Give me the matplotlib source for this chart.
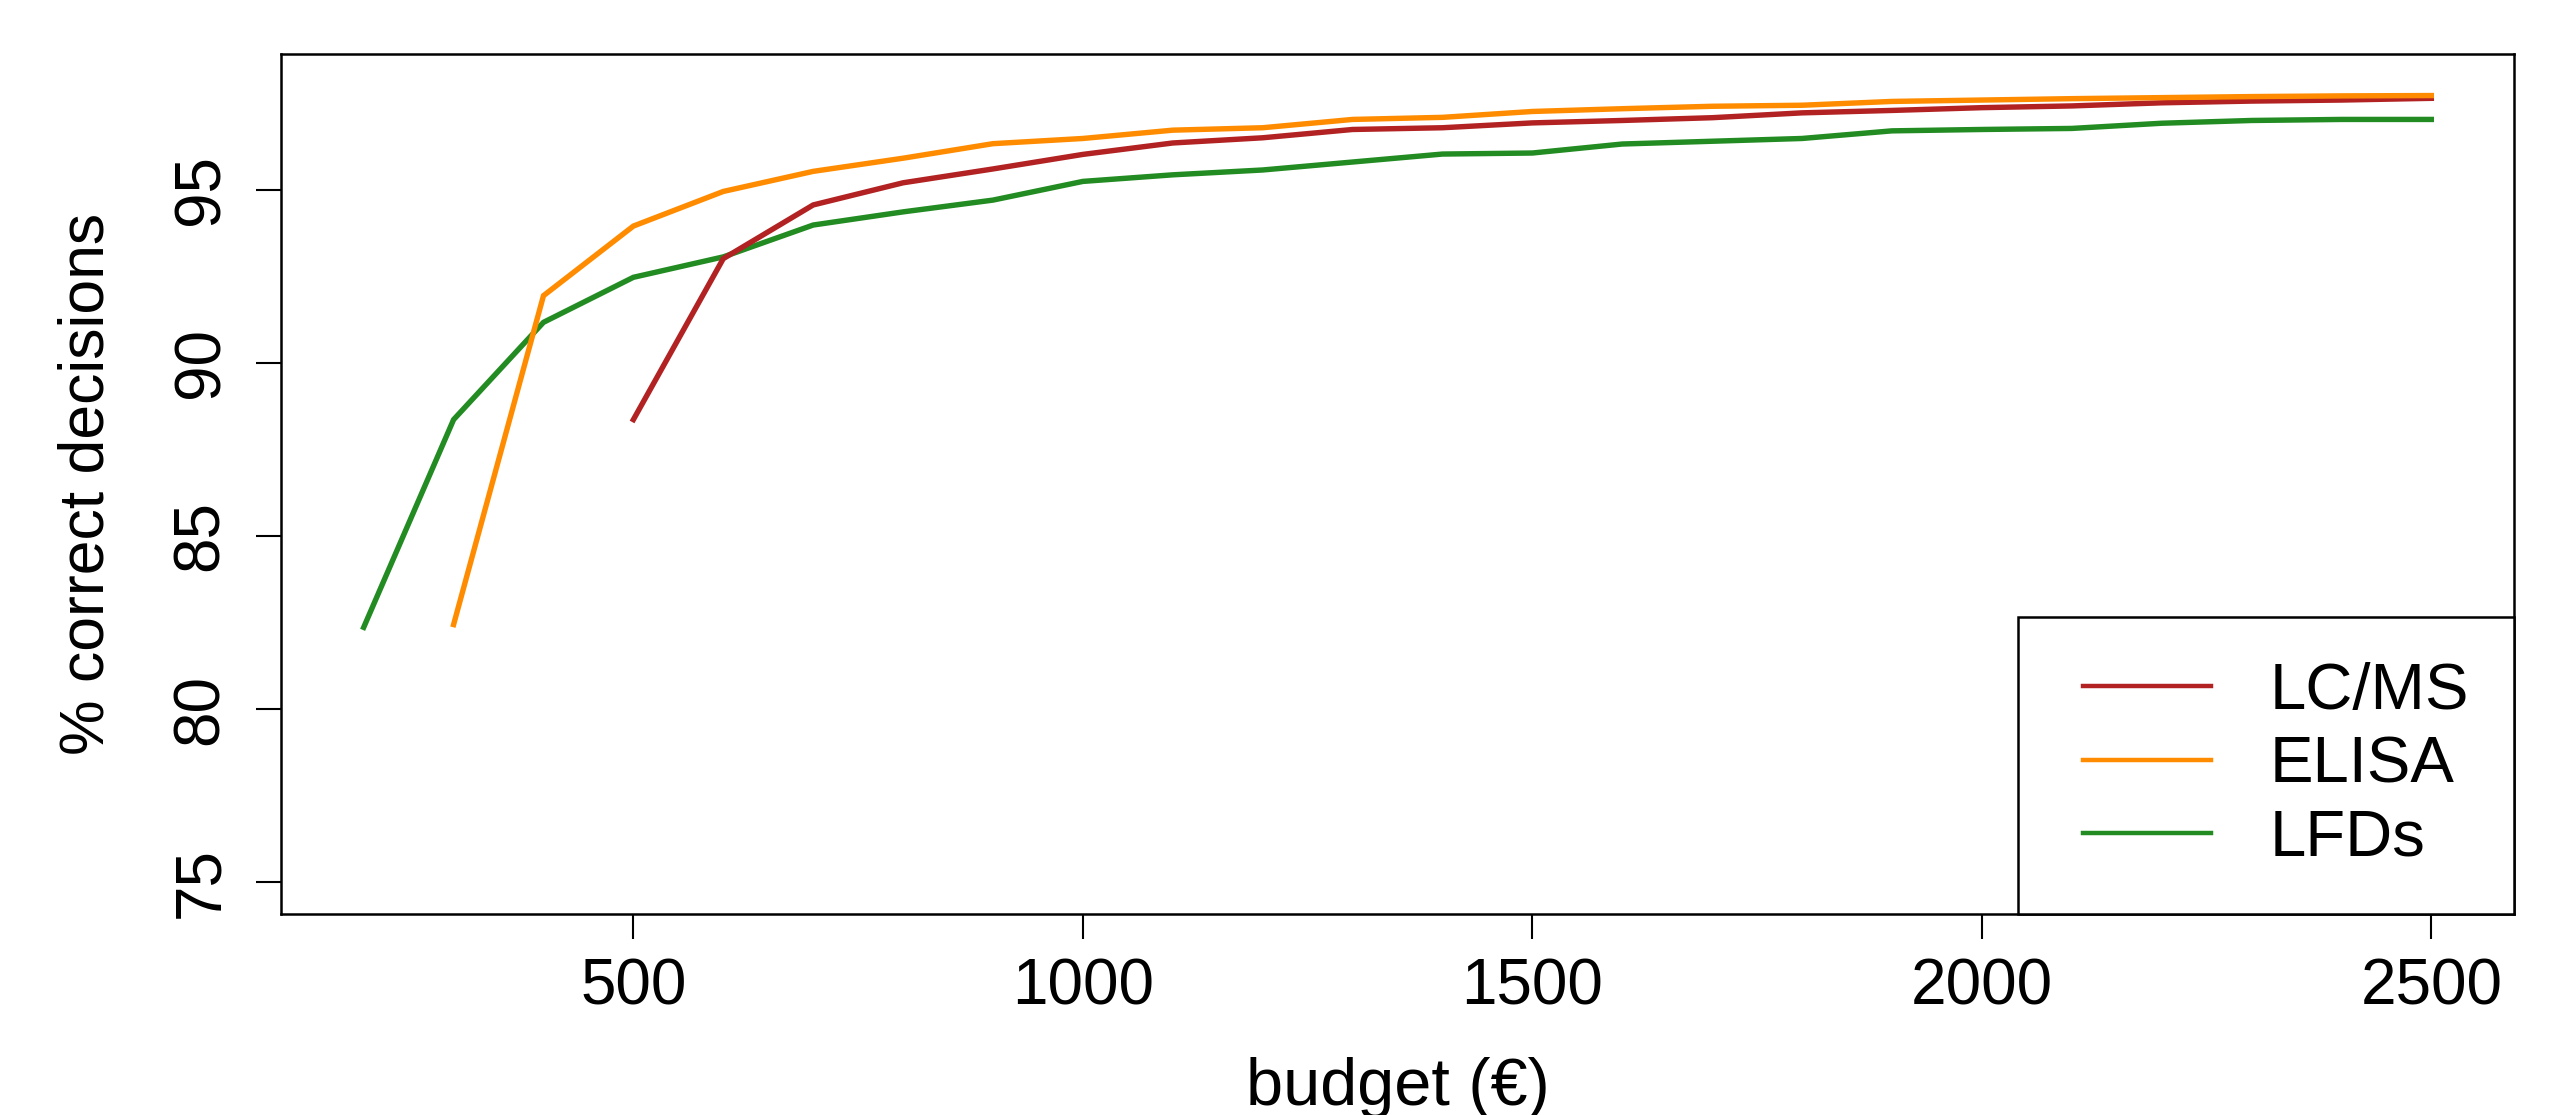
import matplotlib
matplotlib.use("Agg")
import matplotlib.pyplot as plt
from matplotlib.legend_handler import HandlerLine2D

plt.rcParams['font.family'] = ['Liberation Sans', 'DejaVu Sans']

budget_lfd = [200, 300, 400, 500, 600, 700, 800, 900, 1000, 1100, 1200, 1300,
              1400, 1500, 1600, 1700, 1800, 1900, 2000, 2100, 2200, 2300, 2400, 2500]
lfd = [82.36, 88.36, 91.17, 92.47, 93.06, 93.98, 94.36, 94.70, 95.24, 95.43, 95.57, 95.80,
       96.03, 96.06, 96.32, 96.40, 96.48, 96.70, 96.74, 96.77, 96.92, 97.00, 97.03, 97.03]

budget_elisa = [300, 400, 500, 600, 700, 800, 900, 1000, 1100, 1200, 1300,
                1400, 1500, 1600, 1700, 1800, 1900, 2000, 2100, 2200, 2300, 2400, 2500]
elisa = [82.44, 91.94, 93.95, 94.95, 95.53, 95.91, 96.33, 96.48, 96.72, 96.79, 97.03,
         97.09, 97.26, 97.34, 97.41, 97.44, 97.55, 97.59, 97.63, 97.66, 97.69, 97.71, 97.72]

budget_lcms = [500, 600, 700, 800, 900, 1000, 1100, 1200, 1300,
               1400, 1500, 1600, 1700, 1800, 1900, 2000, 2100, 2200, 2300, 2400, 2500]
lcms = [88.36, 93.01, 94.56, 95.20, 95.60, 96.02, 96.35, 96.50, 96.74,
        96.79, 96.93, 97.00, 97.08, 97.22, 97.29, 97.37, 97.42, 97.51, 97.56, 97.59, 97.64]

x_ticks = [500, 1000, 1500, 2000, 2500]
y_ticks = [75, 80, 85, 90, 95]
series_names = ["LC/MS", "ELISA", "LFDs"]
series_colors = ["#B22222", "#FF8C00", "#228B22"]

W, H = 2566, 1115
fig = plt.figure(figsize=(W / 100, H / 100), dpi=100)
L, R, T, B = 281, 2514, 54, 914
ax = fig.add_axes([L / W, 1 - B / H, (R - L) / W, (B - T) / H])

lw = 3.9
l3, = ax.plot(budget_lfd, lfd, color=series_colors[2], lw=lw, solid_joinstyle='miter')
l1, = ax.plot(budget_lcms, lcms, color=series_colors[0], lw=lw, solid_joinstyle='miter')
l2, = ax.plot(budget_elisa, elisa, color=series_colors[1], lw=lw, solid_joinstyle='miter')

ax.set_xlim(108, 2592)
ax.set_ylim(74.08, 98.92)
ax.set_xticks(x_ticks)
ax.set_yticks(y_ticks)
ax.tick_params(axis='both', direction='out', length=18, width=1.5, color='black')
ax.tick_params(axis='x', pad=13, labelsize=46)
ax.tick_params(axis='y', pad=18, labelsize=46, labelrotation=90)
for lab in ax.get_yticklabels():
    lab.set_va('center')
for s in ax.spines.values():
    s.set_linewidth(1.8)
    s.set_color('black')

fig.text((L + R) / 2 / W, 10 / H, "budget (€)", ha='center', va='baseline', fontsize=48)
fig.text(104 / W, 1 - ((T + B) / 2) / H, "% correct decisions", rotation=90,
         rotation_mode='anchor', ha='center', va='baseline', fontsize=45)

fs = 47
hm = {ln: HandlerLine2D(xpad=0.31) for ln in (l1, l2, l3)}
leg = ax.legend([l1, l2, l3], series_names, loc='lower right', fontsize=fs,
                frameon=True, fancybox=False, borderaxespad=0, borderpad=0.69,
                handlelength=2.27, handletextpad=0.89, labelspacing=0.205,
                edgecolor='black', framealpha=1, handler_map=hm)
leg.get_frame().set_linewidth(1.8)
for ln in leg.get_lines():
    ln.set_linewidth(3.2)

fig.savefig("out.png", dpi=100)
